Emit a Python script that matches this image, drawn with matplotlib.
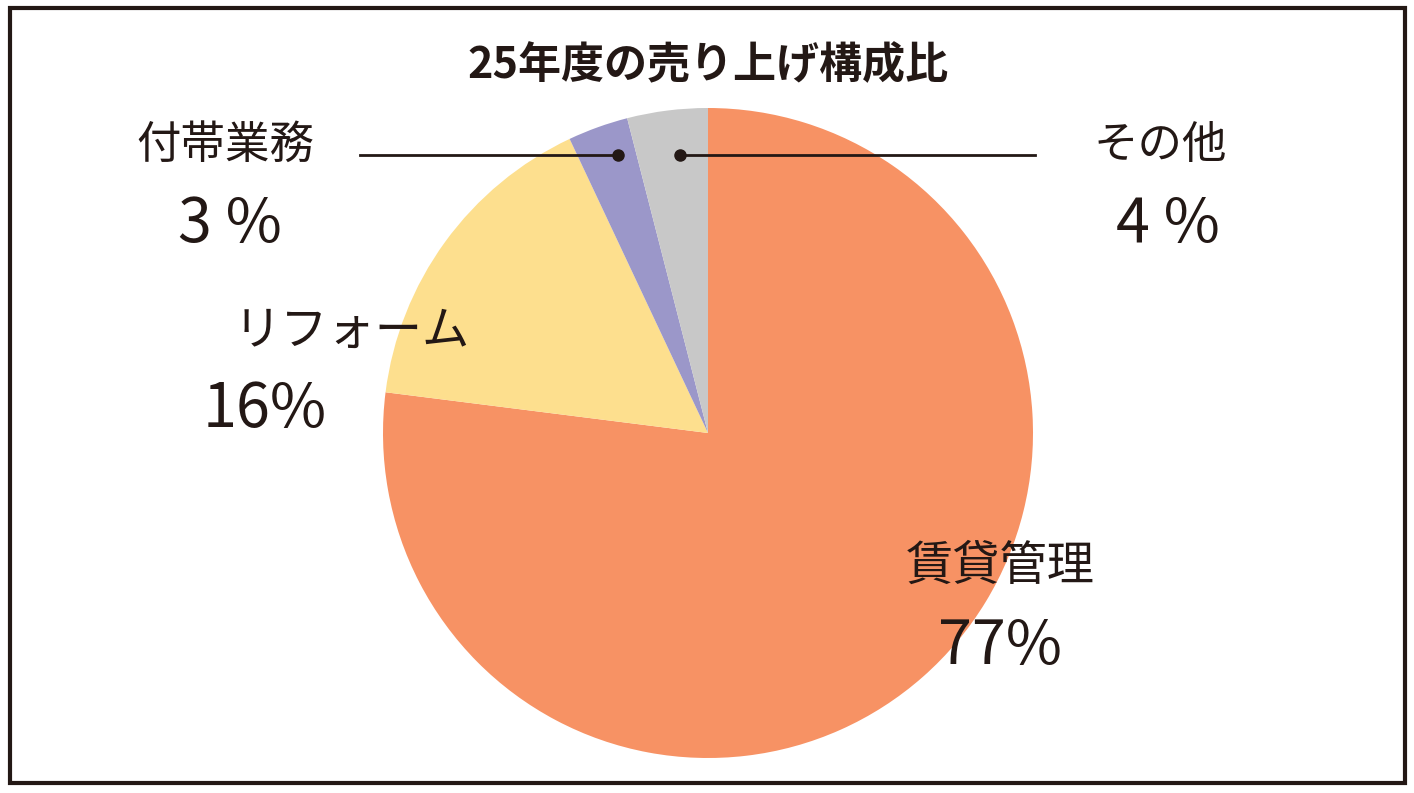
import matplotlib
matplotlib.use("Agg")
import matplotlib.pyplot as plt
from matplotlib.patches import Rectangle

plt.rcParams['font.family'] = ['Noto Sans CJK JP', 'DejaVu Sans']

categories = ["賃貸管理", "リフォーム", "付帯業務", "その他"]
values = [77, 16, 3, 4]
colors = ["#F79264", "#FDDF8E", "#9B97C9", "#C8C8C8"]
tc = "#231815"

W, H = 1414, 793
fig = plt.figure(figsize=(W/100, H/100), dpi=100)
ax = fig.add_axes([0, 0, 1, 1])
ax.set_xlim(0, W); ax.set_ylim(0, H); ax.set_aspect('equal'); ax.axis('off')

def Y(py): return H - py

ax.pie(values, colors=colors, startangle=90, counterclock=False,
       center=(708, Y(433)), radius=325, frame=True)
ax.set_xlim(0, W); ax.set_ylim(0, H); ax.axis('off')

ax.add_patch(Rectangle((10, Y(783)), 1395, 775, fill=False, ec=tc, lw=3))

ax.text(708, Y(65), "25年度の売り上げ構成比", ha='center', va='center', fontsize=31, fontweight='bold', color=tc)

ax.text(225, Y(145), "付帯業務", ha='center', va='center', fontsize=32, color=tc)
ax.text(230, Y(225), "3 %", ha='center', va='center', fontsize=44, color=tc)
ax.text(1160, Y(145), "その他", ha='center', va='center', fontsize=32, color=tc)
ax.text(1168, Y(225), "4 %", ha='center', va='center', fontsize=44, color=tc)
ax.text(352, Y(332), "リフォーム", ha='center', va='center', fontsize=34, color=tc)
ax.text(265, Y(410), "16%", ha='center', va='center', fontsize=44, color=tc)
ax.text(1000, Y(567), "賃貸管理", ha='center', va='center', fontsize=34, color=tc)
ax.text(1000, Y(647), "77%", ha='center', va='center', fontsize=44, color=tc)

ax.plot([360, 618], [Y(155), Y(155)], color=tc, lw=2)
ax.plot([618], [Y(155)], 'o', color=tc, ms=8)
ax.plot([680, 1035], [Y(155), Y(155)], color=tc, lw=2)
ax.plot([680], [Y(155)], 'o', color=tc, ms=8)

fig.savefig("out.png", dpi=100)
